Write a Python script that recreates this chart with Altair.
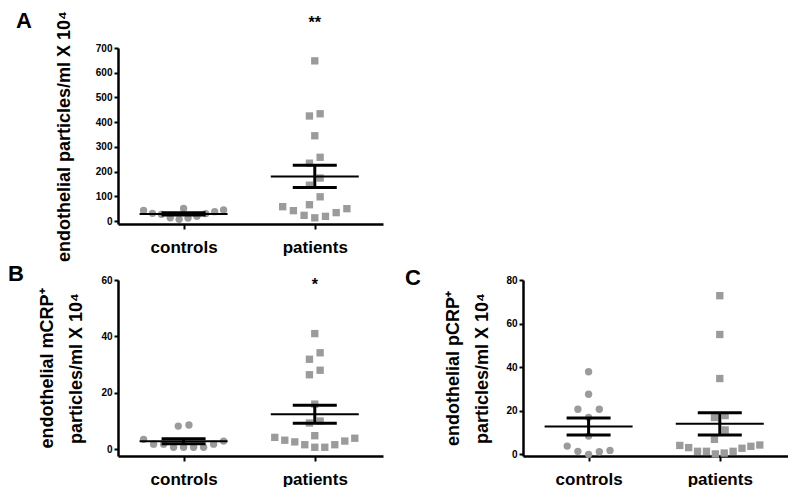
import altair as alt
import pandas as pd
import numpy as np

categories = ["controls", "patients"]

a_controls = [43, 31, 27, 13, 7, 51, 12, 19, 30, 38, 45]
a_patients = [648, 434, 425, 345, 258, 234, 174, 145, 98, 66, 58, 42, 23, 13, 19, 34, 50]
b_controls = [3.5, 1.8, 1.8, 0.7, 0.7, 0.7, 0.7, 1.8, 2.9, 8.6, 8.2]
b_patients = [41, 34.2, 31.9, 28, 26.4, 16, 9.3, 10, 4.8, 4.2, 3.2, 2.6, 1.6, 0.7, 0.7, 1.6, 2.9, 3.9]
c_controls = [37.9, 27.6, 20.7, 20.7, 17, 8.4, 3.8, 1.4, 0, 1.2, 1.8]
c_patients = [72.8, 55, 34.8, 16.9, 17.8, 11.2, 6.9, 4.1, 3.1, 1.4, 1.4, 0.2, 0.6, 1.4, 2.8, 3.7, 4.3]

a_ticks = [0, 100, 200, 300, 400, 500, 600, 700]
b_ticks = [0, 20, 40, 60]
c_ticks = [0, 20, 40, 60, 80]

a_title = "endothelial particles/ml X 10⁴"
b_title = ["endothelial mCRP⁺", "particles/ml X 10⁴"]
c_title = ["endothelial pCRP⁺", "particles/ml X 10⁴"]

FONT = "Liberation Sans"
GRAY = "#9b9b9b"
W, H = 265, 176
XDOM = [-0.5, 1.52]
XPPU = W / (XDOM[1] - XDOM[0])


def swarm(values, ppu, row_px):
    """Prism-like scatter-dot layout: group points into rows, spread each row."""
    order = sorted(range(len(values)), key=lambda i: values[i])
    offs = [0.0] * len(values)
    k = 0
    while k < len(order):
        start = values[order[k]]
        row = [order[k]]
        k += 1
        while k < len(order) and (values[order[k]] - start) * ppu < row_px:
            row.append(order[k])
            k += 1
        n = len(row)
        step = min(10.7, 80.0 / (n - 1)) if n > 1 else 0
        for j, idx in enumerate(row):
            if n % 2:
                slot = 0 if j == 0 else ((j + 1) // 2) * (1 if j % 2 else -1)
            else:
                slot = (j // 2 + 0.5) * (-1 if j % 2 == 0 else 1)
            offs[idx] = slot * step
    return offs


def panel(ctrl, pat, ydom, yticks, title, letter, letter_xy, star, rows, tpad):
    ppu = H / (ydom[1] - ydom[0])
    recs = []
    stats = []
    for gi, (name, vals) in enumerate(zip(categories, [ctrl, pat])):
        offs = swarm(vals, ppu, rows[gi])
        for v, o in zip(vals, offs):
            recs.append({"group": name, "value": v, "xpos": gi + o / XPPU})
        arr = np.array(vals, dtype=float)
        m = arr.mean()
        se = arr.std(ddof=1) / np.sqrt(len(arr))
        stats.append({"gi": gi, "mean": m, "lo": m - se, "hi": m + se,
                      "m1": gi - 44 / XPPU, "m2": gi + 44 / XPPU,
                      "c1": gi - 22 / XPPU, "c2": gi + 22 / XPPU})
    df = pd.DataFrame(recs)
    st = pd.DataFrame(stats)

    xscale = alt.Scale(domain=XDOM, nice=False, zero=False)
    yscale = alt.Scale(domain=ydom, nice=False, zero=False)
    xaxis = alt.Axis(values=[0, 1], labelExpr="datum.value == 0 ? 'controls' : 'patients'",
                     title=None, labelFontSize=17, labelPadding=10, tickSize=5,
                     labelFont=FONT, labelFontWeight="bold")
    yaxis = alt.Axis(values=yticks, tickCount=len(yticks), title=title, labelFontSize=10,
                     labelPadding=2, tickSize=4, labelOverlap=False, labelFlush=False,
                     titleFontSize=18, titlePadding=tpad, titleLineHeight=29,
                     labelFont=FONT, titleFont=FONT, labelFontWeight="bold", titleFontWeight="bold")

    def X(field):
        return alt.X(field, scale=xscale, axis=xaxis)

    def Y(field):
        return alt.Y(field, scale=yscale, axis=yaxis)

    pts = alt.Chart(df).mark_point(filled=True, opacity=1, size=54, color=GRAY).encode(
        x=X("xpos:Q"),
        y=Y("value:Q"),
        shape=alt.Shape("group:N", scale=alt.Scale(domain=categories, range=["circle", "square"]), legend=None),
    )
    mean = alt.Chart(st).mark_rule(color="black", strokeWidth=2).encode(
        x=X("m1:Q"), x2="m2:Q", y=Y("mean:Q"))
    cap_hi = alt.Chart(st).mark_rule(color="black", strokeWidth=3).encode(
        x=X("c1:Q"), x2="c2:Q", y=Y("hi:Q"))
    cap_lo = alt.Chart(st).mark_rule(color="black", strokeWidth=3).encode(
        x=X("c1:Q"), x2="c2:Q", y=Y("lo:Q"))
    vert = alt.Chart(st).mark_rule(color="black", strokeWidth=3).encode(
        x=X("gi:Q"), y=Y("lo:Q"), y2="hi:Q")
    lab = alt.Chart(pd.DataFrame({"t": [letter]})).mark_text(
        font=FONT, fontSize=22, fontWeight="bold", align="center", baseline="middle", color="black"
    ).encode(text="t:N", x=alt.value(letter_xy[0]), y=alt.value(letter_xy[1]))
    layers = [pts, mean, cap_hi, cap_lo, vert, lab]
    if star:
        sdf = pd.DataFrame({"t": [star[0]], "xpos": [1]})
        layers.append(alt.Chart(sdf).mark_text(
            font=FONT, fontSize=16, fontWeight="bold", align="center", baseline="middle", color="black"
        ).encode(text="t:N", x=X("xpos:Q"), y=alt.value(star[1])))
    return alt.layer(*layers).properties(width=W, height=H)


A = panel(a_controls, a_patients, [-12, 700], a_ticks, a_title, "A", (-94, -27), ("**", -25),
          (10.5, 12), 22)
B = panel(b_controls, b_patients, [-2.4, 60], b_ticks, b_title, "B", (-102, -6), ("*", 5),
          (11, 11), 15)
C = panel(c_controls, c_patients, [-0.75, 80], c_ticks, c_title, "C", (-110, -2), None,
          (11, 11), 14)

blank = alt.Chart(pd.DataFrame({"a": [0]})).mark_point(opacity=0).encode(
    x=alt.value(0), y=alt.value(0)).properties(width=W, height=H)

chart = alt.concat(A, blank, B, C, columns=2, spacing={"row": 1, "column": 22}).properties(
    padding={"left": 0, "top": 2, "right": 0, "bottom": 0}
).configure_view(stroke=None).configure_axis(
    grid=False, domainColor="black", domainWidth=2.5, tickColor="black", tickWidth=2,
    labelColor="black", titleColor="black"
)

chart.save("out.html", embed_options={"renderer": "svg", "actions": False})
